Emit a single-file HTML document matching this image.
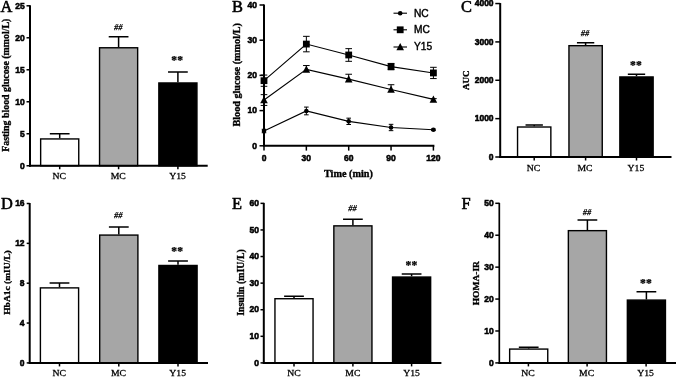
<!DOCTYPE html>
<html lang="en">
<head>
<meta charset="utf-8">
<title>Figure</title>
<style>
html,body{margin:0;padding:0;background:#fff;}
body{width:676px;height:377px;overflow:hidden;}
svg{display:block;}
text{fill:#000;stroke:#000;stroke-width:0.3px;}
.pl{font-family:"Liberation Serif",serif;font-size:16.4px;stroke-width:0.55px;}
.tk{font-family:"Liberation Sans",sans-serif;font-weight:bold;stroke-width:0.55px;}
.yl{font-family:"Liberation Serif",serif;font-weight:bold;stroke-width:0.35px;}
.xl{font-family:"Liberation Serif",serif;font-size:9.7px;}
.hs{font-family:"Liberation Serif",serif;font-style:italic;font-size:7.8px;stroke-width:0.25px;fill:#000;}
.st{font-family:"Liberation Serif",serif;font-weight:bold;font-size:11.6px;stroke-width:0.25px;letter-spacing:0.2px;}
.lg{font-family:"Liberation Sans",sans-serif;font-size:10.2px;stroke-width:0.4px;}
.axis{stroke:#000;stroke-width:2.0;fill:none;}
.tick{stroke:#000;stroke-width:1.5;fill:none;}
.eb{stroke:#000;stroke-width:1.5;fill:none;}
.bar{stroke:#000;stroke-width:1.4;}
.ln{stroke:#000;stroke-width:1.1;fill:none;}
.lb{stroke:#000;stroke-width:1;fill:none;}
</style>
</head>
<body>
<svg width="676" height="377" viewBox="0 0 676 377">
<rect width="676" height="377" fill="#fff"/>
<text x="0.5" y="11.6" class="pl">A</text>
<path d="M59.70 138.24V133.63M49.83 133.63H69.58" class="eb"/>
<path d="M118.60 47.07V36.70M108.72 36.70H128.47" class="eb"/>
<path d="M177.90 82.26V72.02M168.03 72.02H187.78" class="eb"/>
<rect x="40.65" y="138.94" width="38.10" height="26.81" fill="#fff" class="bar"/>
<rect x="99.55" y="47.77" width="38.10" height="117.98" fill="#a6a6a6" class="bar"/>
<rect x="158.85" y="82.96" width="38.10" height="82.79" fill="#000" class="bar"/>
<path d="M30.00 5.30V166.75" class="axis" stroke-width="2.0" style="stroke-width:2.0"/>
<path d="M29.00 165.75H207.70" class="axis"/>
<path d="M26.50 165.75H30.00" class="tick"/>
<text transform="translate(24.70,168.50) scale(1,1)" class="tk" text-anchor="end" font-size="8.5">0</text>
<path d="M26.50 133.76H30.00" class="tick"/>
<text transform="translate(24.70,136.51) scale(1,1)" class="tk" text-anchor="end" font-size="8.5">5</text>
<path d="M26.50 101.77H30.00" class="tick"/>
<text transform="translate(24.70,104.52) scale(1,1)" class="tk" text-anchor="end" font-size="8.5">10</text>
<path d="M26.50 69.78H30.00" class="tick"/>
<text transform="translate(24.70,72.53) scale(1,1)" class="tk" text-anchor="end" font-size="8.5">15</text>
<path d="M26.50 37.79H30.00" class="tick"/>
<text transform="translate(24.70,40.54) scale(1,1)" class="tk" text-anchor="end" font-size="8.5">20</text>
<path d="M26.50 5.80H30.00" class="tick"/>
<text transform="translate(24.70,8.55) scale(1,1)" class="tk" text-anchor="end" font-size="8.5">25</text>
<path d="M59.70 165.75V169.25" class="tick"/>
<text transform="translate(59.30,178.95) scale(1,0.9)" class="xl" text-anchor="middle">NC</text>
<path d="M118.60 165.75V169.25" class="tick"/>
<text transform="translate(118.20,178.95) scale(1,0.9)" class="xl" text-anchor="middle">MC</text>
<path d="M177.90 165.75V169.25" class="tick"/>
<text transform="translate(177.50,178.95) scale(1,0.9)" class="xl" text-anchor="middle">Y15</text>
<text transform="translate(8.90,85.20) rotate(-90) scale(1,0.95)" class="yl" text-anchor="middle" font-size="9.9">Fasting blood glucose (mmol/L)</text>
<text x="118.30" y="30.20" class="hs" text-anchor="middle" textLength="8.4" lengthAdjust="spacingAndGlyphs">##</text>
<text x="177.30" y="64.40" class="st" text-anchor="middle">**</text>
<text x="461" y="11.6" class="pl">C</text>
<path d="M534.20 126.31V124.97M525.53 124.97H542.88" class="eb"/>
<path d="M585.60 44.98V42.83M576.93 42.83H594.27" class="eb"/>
<path d="M636.50 76.25V74.33M627.83 74.33H645.17" class="eb"/>
<rect x="517.55" y="127.01" width="33.30" height="29.99" fill="#fff" class="bar"/>
<rect x="568.95" y="45.68" width="33.30" height="111.32" fill="#a6a6a6" class="bar"/>
<rect x="619.85" y="76.95" width="33.30" height="80.05" fill="#000" class="bar"/>
<path d="M500.20 3.05V158.00" class="axis" stroke-width="2.0" style="stroke-width:2.0"/>
<path d="M499.20 157.00H671.50" class="axis"/>
<path d="M495.30 157.00H500.20" class="tick"/>
<text transform="translate(493.60,159.75) scale(1,1)" class="tk" text-anchor="end" font-size="8.5">0</text>
<path d="M495.30 118.64H500.20" class="tick"/>
<text transform="translate(493.60,121.39) scale(1,1)" class="tk" text-anchor="end" font-size="8.5">1000</text>
<path d="M495.30 80.28H500.20" class="tick"/>
<text transform="translate(493.60,83.03) scale(1,1)" class="tk" text-anchor="end" font-size="8.5">2000</text>
<path d="M495.30 41.91H500.20" class="tick"/>
<text transform="translate(493.60,44.66) scale(1,1)" class="tk" text-anchor="end" font-size="8.5">3000</text>
<path d="M495.30 3.55H500.20" class="tick"/>
<text transform="translate(493.60,6.30) scale(1,1)" class="tk" text-anchor="end" font-size="8.5">4000</text>
<path d="M534.20 157.00V160.50" class="tick"/>
<text transform="translate(533.60,171.25) scale(1,0.9)" class="xl" text-anchor="middle">NC</text>
<path d="M585.60 157.00V160.50" class="tick"/>
<text transform="translate(585.00,171.25) scale(1,0.9)" class="xl" text-anchor="middle">MC</text>
<path d="M636.50 157.00V160.50" class="tick"/>
<text transform="translate(635.90,171.25) scale(1,0.9)" class="xl" text-anchor="middle">Y15</text>
<text transform="translate(469.30,80.20) rotate(-90) scale(1,0.95)" class="yl" text-anchor="middle" font-size="9.0">AUC</text>
<text x="585.00" y="36.00" class="hs" text-anchor="middle" textLength="8.4" lengthAdjust="spacingAndGlyphs">##</text>
<text x="636.10" y="69.40" class="st" text-anchor="middle">**</text>
<text x="0.9" y="209.3" class="pl">D</text>
<path d="M59.50 287.19V283.00M49.60 283.00H69.40" class="eb"/>
<path d="M118.80 234.38V226.91M108.90 226.91H128.70" class="eb"/>
<path d="M178.00 264.77V261.08M168.10 261.08H187.90" class="eb"/>
<rect x="40.40" y="287.88" width="38.20" height="75.01" fill="#fff" class="bar"/>
<rect x="99.70" y="235.08" width="38.20" height="127.82" fill="#a6a6a6" class="bar"/>
<rect x="158.90" y="265.47" width="38.20" height="97.43" fill="#000" class="bar"/>
<path d="M29.70 203.00V363.90" class="axis" stroke-width="2.0" style="stroke-width:2.0"/>
<path d="M28.70 362.90H208.00" class="axis"/>
<path d="M26.70 362.90H29.70" class="tick"/>
<text transform="translate(24.60,365.65) scale(1,1)" class="tk" text-anchor="end" font-size="8.5">0</text>
<path d="M26.70 323.05H29.70" class="tick"/>
<text transform="translate(24.60,325.80) scale(1,1)" class="tk" text-anchor="end" font-size="8.5">4</text>
<path d="M26.70 283.20H29.70" class="tick"/>
<text transform="translate(24.60,285.95) scale(1,1)" class="tk" text-anchor="end" font-size="8.5">8</text>
<path d="M26.70 243.35H29.70" class="tick"/>
<text transform="translate(24.60,246.10) scale(1,1)" class="tk" text-anchor="end" font-size="8.5">12</text>
<path d="M26.70 203.50H29.70" class="tick"/>
<text transform="translate(24.60,206.25) scale(1,1)" class="tk" text-anchor="end" font-size="8.5">16</text>
<path d="M59.50 362.90V366.40" class="tick"/>
<text transform="translate(59.20,376.00) scale(1,0.9)" class="xl" text-anchor="middle">NC</text>
<path d="M118.80 362.90V366.40" class="tick"/>
<text transform="translate(118.50,376.00) scale(1,0.9)" class="xl" text-anchor="middle">MC</text>
<path d="M178.00 362.90V366.40" class="tick"/>
<text transform="translate(177.70,376.00) scale(1,0.9)" class="xl" text-anchor="middle">Y15</text>
<text transform="translate(9.50,282.50) rotate(-90) scale(1,0.95)" class="yl" text-anchor="middle" font-size="9.5">HbA1c (mIU/L)</text>
<text x="118.30" y="218.00" class="hs" text-anchor="middle" textLength="8.4" lengthAdjust="spacingAndGlyphs">##</text>
<text x="177.30" y="255.00" class="st" text-anchor="middle">**</text>
<text x="232.1" y="209.1" class="pl">E</text>
<path d="M294.00 298.02V296.15M284.12 296.15H303.88" class="eb"/>
<path d="M352.90 225.16V219.31M343.02 219.31H362.77" class="eb"/>
<path d="M411.60 276.34V274.08M401.73 274.08H421.48" class="eb"/>
<rect x="274.95" y="298.72" width="38.10" height="64.18" fill="#fff" class="bar"/>
<rect x="333.85" y="225.86" width="38.10" height="137.04" fill="#a6a6a6" class="bar"/>
<rect x="392.55" y="277.04" width="38.10" height="85.86" fill="#000" class="bar"/>
<path d="M263.80 202.85V363.90" class="axis" stroke-width="2.0" style="stroke-width:2.0"/>
<path d="M262.80 362.90H441.40" class="axis"/>
<path d="M260.50 362.90H263.80" class="tick"/>
<text transform="translate(259.00,365.65) scale(1,1)" class="tk" text-anchor="end" font-size="8.5">0</text>
<path d="M260.50 336.31H263.80" class="tick"/>
<text transform="translate(259.00,339.06) scale(1,1)" class="tk" text-anchor="end" font-size="8.5">10</text>
<path d="M260.50 309.72H263.80" class="tick"/>
<text transform="translate(259.00,312.47) scale(1,1)" class="tk" text-anchor="end" font-size="8.5">20</text>
<path d="M260.50 283.12H263.80" class="tick"/>
<text transform="translate(259.00,285.88) scale(1,1)" class="tk" text-anchor="end" font-size="8.5">30</text>
<path d="M260.50 256.53H263.80" class="tick"/>
<text transform="translate(259.00,259.28) scale(1,1)" class="tk" text-anchor="end" font-size="8.5">40</text>
<path d="M260.50 229.94H263.80" class="tick"/>
<text transform="translate(259.00,232.69) scale(1,1)" class="tk" text-anchor="end" font-size="8.5">50</text>
<path d="M260.50 203.35H263.80" class="tick"/>
<text transform="translate(259.00,206.10) scale(1,1)" class="tk" text-anchor="end" font-size="8.5">60</text>
<path d="M294.00 362.90V366.40" class="tick"/>
<text transform="translate(294.00,376.00) scale(1,0.9)" class="xl" text-anchor="middle">NC</text>
<path d="M352.90 362.90V366.40" class="tick"/>
<text transform="translate(352.90,376.00) scale(1,0.9)" class="xl" text-anchor="middle">MC</text>
<path d="M411.60 362.90V366.40" class="tick"/>
<text transform="translate(411.60,376.00) scale(1,0.9)" class="xl" text-anchor="middle">Y15</text>
<text transform="translate(243.90,282.50) rotate(-90) scale(1,0.95)" class="yl" text-anchor="middle" font-size="9.8">Insulin (mIU/L)</text>
<text x="352.40" y="211.00" class="hs" text-anchor="middle" textLength="8.4" lengthAdjust="spacingAndGlyphs">##</text>
<text x="411.40" y="268.70" class="st" text-anchor="middle">**</text>
<text x="461.5" y="209.3" class="pl">F</text>
<path d="M528.70 348.38V347.23M518.83 347.23H538.58" class="eb"/>
<path d="M587.40 229.95V219.90M577.52 219.90H597.27" class="eb"/>
<path d="M646.40 299.38V291.72M636.52 291.72H656.27" class="eb"/>
<rect x="509.65" y="349.08" width="38.10" height="13.82" fill="#fff" class="bar"/>
<rect x="568.35" y="230.65" width="38.10" height="132.25" fill="#a6a6a6" class="bar"/>
<rect x="627.35" y="300.08" width="38.10" height="62.82" fill="#000" class="bar"/>
<path d="M499.30 202.80V363.90" class="axis" stroke-width="1.7" style="stroke-width:1.7"/>
<path d="M498.45 362.90H677.00" class="axis"/>
<path d="M495.30 362.90H499.30" class="tick"/>
<text transform="translate(493.70,365.65) scale(1,1)" class="tk" text-anchor="end" font-size="8.5">0</text>
<path d="M495.30 330.98H499.30" class="tick"/>
<text transform="translate(493.70,333.73) scale(1,1)" class="tk" text-anchor="end" font-size="8.5">10</text>
<path d="M495.30 299.06H499.30" class="tick"/>
<text transform="translate(493.70,301.81) scale(1,1)" class="tk" text-anchor="end" font-size="8.5">20</text>
<path d="M495.30 267.14H499.30" class="tick"/>
<text transform="translate(493.70,269.89) scale(1,1)" class="tk" text-anchor="end" font-size="8.5">30</text>
<path d="M495.30 235.22H499.30" class="tick"/>
<text transform="translate(493.70,237.97) scale(1,1)" class="tk" text-anchor="end" font-size="8.5">40</text>
<path d="M495.30 203.30H499.30" class="tick"/>
<text transform="translate(493.70,206.05) scale(1,1)" class="tk" text-anchor="end" font-size="8.5">50</text>
<path d="M528.40 362.90V366.40" class="tick"/>
<text transform="translate(527.90,376.00) scale(1,0.9)" class="xl" text-anchor="middle">NC</text>
<path d="M587.10 362.90V366.40" class="tick"/>
<text transform="translate(586.60,376.00) scale(1,0.9)" class="xl" text-anchor="middle">MC</text>
<path d="M646.10 362.90V366.40" class="tick"/>
<text transform="translate(645.60,376.00) scale(1,0.9)" class="xl" text-anchor="middle">Y15</text>
<text transform="translate(478.50,283.20) rotate(-90) scale(1,0.95)" class="yl" text-anchor="middle" font-size="9.5">HOMA-IR</text>
<text x="587.00" y="214.70" class="hs" text-anchor="middle" textLength="8.4" lengthAdjust="spacingAndGlyphs">##</text>
<text x="646.00" y="286.70" class="st" text-anchor="middle">**</text>
<text x="232.0" y="11.5" class="pl">B</text>
<path d="M264.00 129.26V132.78M261.70 129.26h4.6M261.70 132.78h4.6" class="lb"/>
<path d="M306.35 107.08V114.82M304.05 107.08h4.6M304.05 114.82h4.6" class="lb"/>
<path d="M348.70 118.17V124.50M346.40 118.17h4.6M346.40 124.50h4.6" class="lb"/>
<path d="M391.05 124.33V130.66M388.75 124.33h4.6M388.75 130.66h4.6" class="lb"/>
<path d="M433.40 129.08V130.49M431.10 129.08h4.6M431.10 130.49h4.6" class="lb"/>
<polyline points="264.00,131.02 306.35,110.95 348.70,121.34 391.05,127.50 433.40,129.78" class="ln"/>
<circle cx="264.00" cy="131.02" r="2.3"/>
<circle cx="306.35" cy="110.95" r="2.3"/>
<circle cx="348.70" cy="121.34" r="2.3"/>
<circle cx="391.05" cy="127.50" r="2.3"/>
<circle cx="433.40" cy="129.78" r="2.3"/>
<path d="M264.00 75.05V86.31M260.70 75.05h6.6M260.70 86.31h6.6" class="lb"/>
<path d="M306.35 36.33V51.82M303.05 36.33h6.6M303.05 51.82h6.6" class="lb"/>
<path d="M348.70 48.65V61.32M345.40 48.65h6.6M345.40 61.32h6.6" class="lb"/>
<path d="M391.05 63.43V69.77M387.75 63.43h6.6M387.75 69.77h6.6" class="lb"/>
<path d="M433.40 67.30V78.57M430.10 67.30h6.6M430.10 78.57h6.6" class="lb"/>
<polyline points="264.00,80.68 306.35,44.07 348.70,54.98 391.05,66.60 433.40,72.94" class="ln"/>
<rect x="260.60" y="77.28" width="6.8" height="6.8"/>
<rect x="302.95" y="40.67" width="6.8" height="6.8"/>
<rect x="345.30" y="51.58" width="6.8" height="6.8"/>
<rect x="387.65" y="63.20" width="6.8" height="6.8"/>
<rect x="430.00" y="69.54" width="6.8" height="6.8"/>
<path d="M264.00 94.65V105.43M260.70 94.65h6.6M260.70 105.43h6.6" class="lb"/>
<path d="M306.35 65.54V69.42M303.05 65.54h6.6" class="lb"/>
<path d="M348.70 74.24V79.10M345.40 74.24h6.6" class="lb"/>
<path d="M391.05 84.73V89.48M387.75 84.73h6.6" class="lb"/>
<path d="M433.40 98.63V99.34M430.10 98.63h6.6" class="lb"/>
<polyline points="264.00,100.04 306.35,69.42 348.70,79.10 391.05,89.48 433.40,99.34" class="ln"/>
<path d="M264.00 96.14L267.80 103.34H260.20Z"/>
<path d="M306.35 65.52L310.15 72.72H302.55Z"/>
<path d="M348.70 75.20L352.50 82.40H344.90Z"/>
<path d="M391.05 85.58L394.85 92.78H387.25Z"/>
<path d="M433.40 95.44L437.20 102.64H429.60Z"/>
<path d="M264.00 4.50V146.80M263.00 145.80H434.40" class="axis"/>
<path d="M259.5 145.80H264.00" class="tick"/>
<text transform="translate(257.00,148.55) scale(1,1)" class="tk" text-anchor="end" font-size="8.5">0</text>
<path d="M259.5 110.60H264.00" class="tick"/>
<text transform="translate(257.00,113.35) scale(1,1)" class="tk" text-anchor="end" font-size="8.5">10</text>
<path d="M259.5 75.40H264.00" class="tick"/>
<text transform="translate(257.00,78.15) scale(1,1)" class="tk" text-anchor="end" font-size="8.5">20</text>
<path d="M259.5 40.20H264.00" class="tick"/>
<text transform="translate(257.00,42.95) scale(1,1)" class="tk" text-anchor="end" font-size="8.5">30</text>
<path d="M259.5 5.00H264.00" class="tick"/>
<text transform="translate(257.00,7.75) scale(1,1)" class="tk" text-anchor="end" font-size="8.5">40</text>
<path d="M264.00 145.80V150.60" class="tick"/>
<text transform="translate(264.00,161.20) scale(1,1)" class="tk" text-anchor="middle" font-size="8.5">0</text>
<path d="M306.35 145.80V150.60" class="tick"/>
<text transform="translate(306.35,161.20) scale(1,1)" class="tk" text-anchor="middle" font-size="8.5">30</text>
<path d="M348.70 145.80V150.60" class="tick"/>
<text transform="translate(348.70,161.20) scale(1,1)" class="tk" text-anchor="middle" font-size="8.5">60</text>
<path d="M391.05 145.80V150.60" class="tick"/>
<text transform="translate(391.05,161.20) scale(1,1)" class="tk" text-anchor="middle" font-size="8.5">90</text>
<path d="M433.40 145.80V150.60" class="tick"/>
<text transform="translate(433.40,161.20) scale(1,1)" class="tk" text-anchor="middle" font-size="8.5">120</text>
<text transform="translate(239.90,74.80) rotate(-90) scale(1,0.95)" class="yl" text-anchor="middle" font-size="10.2">Blood glucose (mmol/L)</text>
<text transform="translate(348.4,176.6) scale(1,0.92)" class="yl" text-anchor="middle" font-size="10.2">Time (min)</text>
<path d="M393.5 13.20H407" class="ln"/>
<circle cx="400.20" cy="13.20" r="2.3"/>
<text x="414" y="16.80" class="lg">NC</text>
<path d="M393.5 29.80H407" class="ln"/>
<rect x="396.80" y="26.40" width="6.8" height="6.8"/>
<text x="414" y="33.40" class="lg">MC</text>
<path d="M393.5 47.00H407" class="ln"/>
<path d="M400.20 43.10L404.00 50.30H396.40Z"/>
<text x="414" y="50.00" class="lg">Y15</text>
</svg>
</body>
</html>
